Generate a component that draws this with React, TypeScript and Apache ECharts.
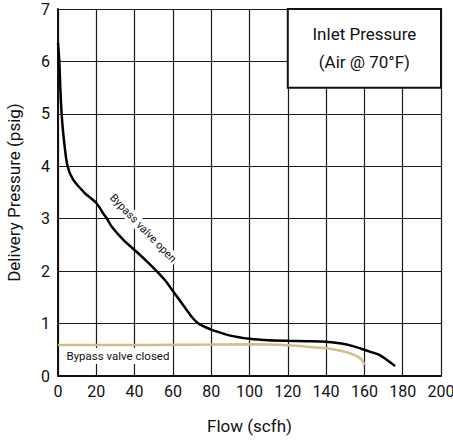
import React, { useEffect, useRef } from "react";
import * as echarts from "echarts";

const FONT = "Roboto, 'Noto Sans', sans-serif";

const xTicks = [0, 20, 40, 60, 80, 100, 120, 140, 160, 180, 200];
const yTicks = [0, 1, 2, 3, 4, 5, 6, 7];

const openFlow = [0, 0.3, 0.7, 1.2, 1.9, 3.1, 5, 8, 14, 20, 23.6, 25.6, 28, 34, 41, 46, 51.5, 56, 60.2, 64, 67.2, 70, 73.3, 77, 81, 90, 100, 110, 120, 130, 140, 148, 154, 160, 164, 168, 172, 176];
const openPressure = [6.36, 6.2, 6.0, 5.5, 5.0, 4.5, 4.0, 3.74, 3.49, 3.3, 3.1, 3.0, 2.85, 2.6, 2.37, 2.2, 2.0, 1.82, 1.61, 1.42, 1.26, 1.12, 1.0, 0.93, 0.87, 0.77, 0.71, 0.68, 0.67, 0.665, 0.655, 0.62, 0.57, 0.5, 0.45, 0.4, 0.3, 0.19];

const closedFlow = [0, 20, 40, 60, 80, 100, 110, 120, 130, 140, 145, 150, 154, 157, 159, 160];
const closedPressure = [0.59, 0.59, 0.59, 0.595, 0.6, 0.605, 0.6, 0.585, 0.56, 0.53, 0.5, 0.46, 0.41, 0.36, 0.29, 0.21];

const legendBox = [[120, 5.5], [200, 7]];
const legendText = "Inlet Pressure\n(Air @ 70°F)";
const openLabel = { text: "Bypass valve open", at: [44.4, 2.82] };
const closedLabel = { text: "Bypass valve closed", at: [31.3, 0.38] };

export default function App() {
  const ref = useRef<HTMLDivElement>(null);
  useEffect(() => {
    document.body.style.margin = "0";
    const chart = echarts.init(ref.current!, undefined, { renderer: "svg" });
    chart.setOption({
      animation: false,
      backgroundColor: "#fff",
      textStyle: { fontFamily: FONT },
      grid: { left: 58, right: 12, top: 9, bottom: 68, containLabel: false, outerBoundsMode: "none" },
      xAxis: {
        type: "value",
        min: xTicks[0],
        max: xTicks[xTicks.length - 1],
        interval: 20,
        name: "Flow (scfh)",
        nameLocation: "middle",
        nameGap: 41,
        nameTextStyle: { fontSize: 17, color: "#111", fontFamily: FONT },
        axisLine: { show: true, lineStyle: { color: "#111", width: 2 } },
        axisTick: { show: false },
        axisLabel: { fontSize: 16, color: "#111", margin: 7, fontFamily: FONT },
        splitLine: { show: true, lineStyle: { color: "#1a1a1a", width: 1.2 } },
      },
      yAxis: {
        type: "value",
        min: yTicks[0],
        max: yTicks[yTicks.length - 1],
        interval: 1,
        name: "Delivery Pressure (psig)",
        nameLocation: "middle",
        nameGap: 36,
        nameTextStyle: { fontSize: 17, color: "#111", fontFamily: FONT },
        axisLine: { show: true, lineStyle: { color: "#111", width: 2 } },
        axisTick: { show: false },
        axisLabel: { fontSize: 16, color: "#111", margin: 8, fontFamily: FONT },
        splitLine: { show: true, lineStyle: { color: "#1a1a1a", width: 1.2 } },
      },
      series: [
        {
          type: "line",
          name: "frame",
          data: [],
          markArea: {
            silent: true,
            itemStyle: { color: "#fff", borderColor: "#111", borderWidth: 2 },
            label: {
              show: true,
              position: "inside",
              color: "#111",
              fontSize: 17,
              lineHeight: 28,
              fontFamily: FONT,
              formatter: legendText,
            },
            data: [[{ coord: legendBox[0] }, { coord: legendBox[1] }]],
          },
        },
        {
          type: "line",
          name: "Bypass valve closed",
          data: closedFlow.map((x, i) => [x, closedPressure[i]]),
          smooth: 0.3,
          showSymbol: false,
          lineStyle: { color: "#d4bb8a", width: 2.5 },
          z: 3,
          markPoint: {
            symbol: "rect",
            symbolSize: 0,
            silent: true,
            label: {
              show: true,
              position: "inside",
              formatter: closedLabel.text,
              fontSize: 11.5,
              color: "#111",
              backgroundColor: "#fff",
              padding: [2, 3],
              fontFamily: FONT,
            },
            data: [{ coord: closedLabel.at }],
          },
        },
        {
          type: "line",
          name: "Bypass valve open",
          data: openFlow.map((x, i) => [x, openPressure[i]]),
          smooth: 0.3,
          showSymbol: false,
          lineStyle: { color: "#000", width: 2.5 },
          z: 4,
          markPoint: {
            symbol: "rect",
            symbolSize: 0,
            silent: true,
            label: {
              show: true,
              position: "inside",
              rotate: -46,
              formatter: openLabel.text,
              fontSize: 11,
              color: "#111",
              backgroundColor: "#fff",
              padding: [1, 2],
              fontFamily: FONT,
            },
            data: [{ coord: openLabel.at }],
          },
        },
      ],
    });
    return () => chart.dispose();
  }, []);
  return <div ref={ref} style={{ width: 453, height: 444 }} />;
}
